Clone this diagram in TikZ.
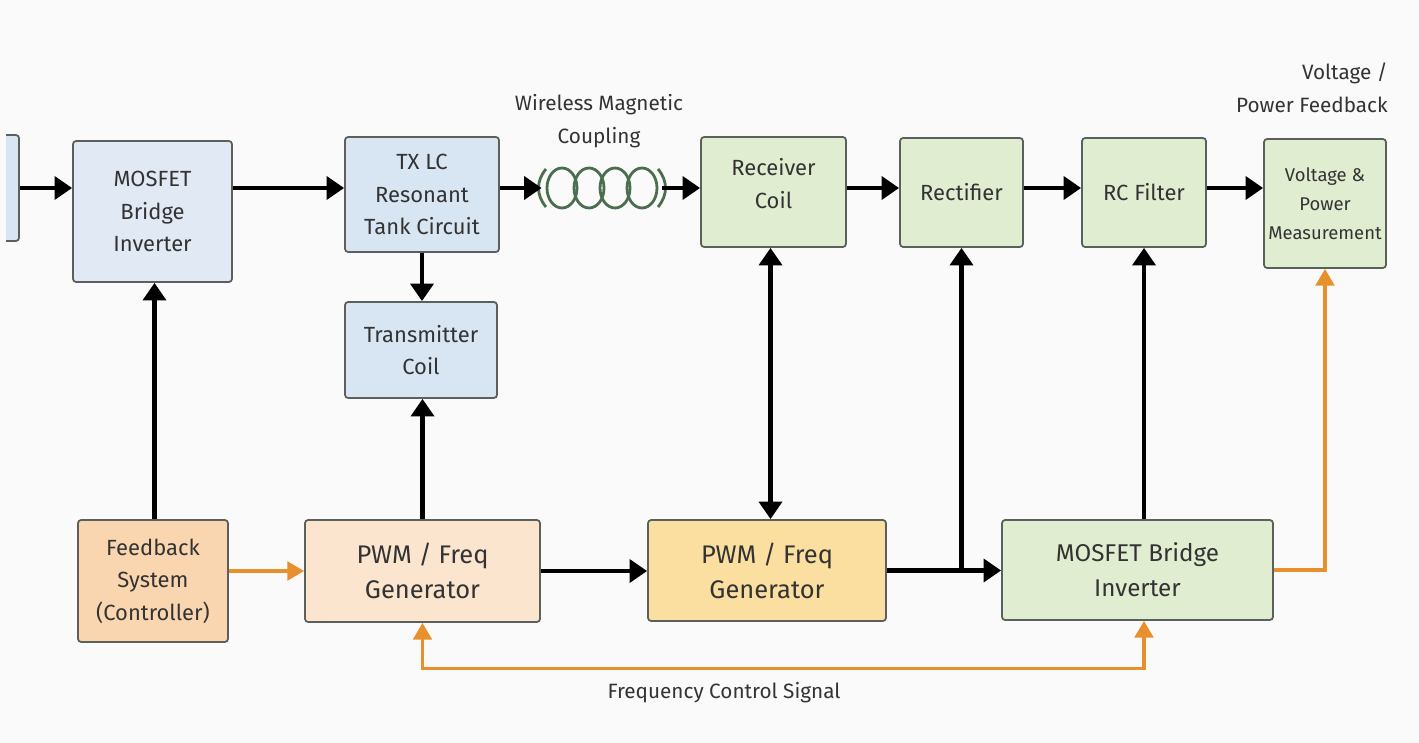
\documentclass[tikz,border=0pt]{standalone}
\usepackage{fontspec}
\setmainfont{Fira Sans}
\usetikzlibrary{arrows.meta}
\definecolor{bg}{HTML}{FAFAFA}
\definecolor{bluefill}{HTML}{D8E6F4}
\definecolor{bluepale}{HTML}{E1E9F5}
\definecolor{greenfill}{HTML}{E1EDD0}
\definecolor{fbfill}{HTML}{F9D6AF}
\definecolor{peach}{HTML}{FBE5CF}
\definecolor{yellowfill}{HTML}{FBDFA0}
\definecolor{edge}{HTML}{5C605C}
\definecolor{txt}{HTML}{333333}
\definecolor{orangeline}{HTML}{E8902C}
\definecolor{coilgreen}{HTML}{4B6E4E}
\begin{document}
\begin{tikzpicture}[x=0.02cm,y=-0.02cm,
  bx/.style 2 args={draw=edge, line width=1pt, rounded corners=1.8pt,
    minimum width=#1*0.02cm, minimum height=#2*0.02cm, inner sep=1pt,
    align=center, text=txt, font=\fontsize{12.5}{18.5}\selectfont},
  bigtext/.style={font=\fontsize{14.5}{20}\selectfont},
  smalltext/.style={font=\fontsize{10.5}{16.4}\selectfont},
  lbl/.style={align=center, text=txt, font=\fontsize{11.8}{18.7}\selectfont, inner sep=0pt},
  arr/.style={draw=black, line width=2.6pt, -{Triangle[length=10pt,width=13pt]}},
  darr/.style={draw=black, line width=2.6pt, {Triangle[length=10pt,width=13pt]}-{Triangle[length=10pt,width=13pt]}},
  oarr/.style={draw=orangeline, line width=2.1pt, -{Triangle[length=9.5pt,width=10.5pt]}},
  odarr/.style={draw=orangeline, line width=2.1pt, {Triangle[length=9.5pt,width=10.5pt]}-{Triangle[length=9.5pt,width=10.5pt]}},
  loop/.style={draw=coilgreen, line width=1.6pt}
]
\useasboundingbox[fill=bg] (0,0) rectangle (1419,743);

% partial source box at the left edge
\begin{scope}
  \clip (6,0) rectangle (200,743);
  \node[bx={60}{106}, fill=bluefill] (src) at (-11,188) {};
\end{scope}

% top row
\node[bx={159}{141}, fill=bluepale] (mos1) at (152.5,211.5) {MOSFET\\Bridge\\Inverter};
\node[bx={154}{115}, fill=bluefill] (tank) at (422,194.5) {TX LC\\Resonant\\Tank Circuit};
\node[bx={152}{96}, fill=bluefill] (txcoil) at (421,350) {Transmitter\\Coil};
\node[minimum width=120*0.02cm, minimum height=45*0.02cm, inner sep=0pt] (coilsym) at (602,188) {};
\node[bx={145}{110}, fill=greenfill] (rxcoil) at (773.5,192) {Receiver\\Coil\\[-9pt]};
\node[bx={123}{109}, fill=greenfill] (rect) at (961.5,192.5) {Rectifier};
\node[bx={124}{109}, fill=greenfill] (rc) at (1144,192.5) {RC Filter};
\node[bx={122}{129}, fill=greenfill, smalltext] (meas) at (1325,203.5) {Voltage \&\\Power\\Measurement};

% coil symbol
\foreach \cx in {562,589,615,642} {
  \draw[loop] (\cx,188) ellipse [x radius=15, y radius=20];
}
\draw[loop] (546,169) .. controls (536,181) and (536,195) .. (546,207);
\draw[loop] (658,169) .. controls (668,181) and (668,195) .. (658,207);

% labels
\node[lbl] (wmc) at (599,121) {Wireless Magnetic\\Coupling};
\node[lbl, align=right, anchor=east] (vpf) at (1388,88) {Voltage /\\Power Feedback};

% bottom row
\node[bx={150}{122}, fill=fbfill] (fb) at (153,581) {Feedback\\System\\(Controller)};
\node[bx={235}{102}, fill=peach, bigtext] (pwm1) at (422.5,571) {PWM / Freq\\Generator};
\node[bx={238}{101}, fill=yellowfill, bigtext] (pwm2) at (767,570.5) {PWM / Freq\\Generator};
\node[bx={271}{100}, fill=greenfill, font=\fontsize{13.8}{20}\selectfont] (mos2) at (1137.5,570) {MOSFET Bridge\\Inverter};
\node[lbl] (fcs) at (724,693) {Frequency Control Signal};

% main power path
\draw[arr] (src.east) -- (src.east -| mos1.west);
\draw[arr] (src.east -| mos1.east) -- (src.east -| tank.west);
\draw[arr] (src.east -| tank.east) -- (coilsym.west);
\draw[arr] (coilsym.east) -- (src.east -| rxcoil.west);
\draw[arr] (src.east -| rxcoil.east) -- (src.east -| rect.west);
\draw[arr] (src.east -| rect.east) -- (src.east -| rc.west);
\draw[arr] (src.east -| rc.east) -- (src.east -| meas.west);

% vertical links
\draw[arr] (tank.south) -- (tank.south |- txcoil.north);
\draw[arr] (pwm1.north) -- (pwm1.north |- txcoil.south);
\draw[arr] (fb.north -| mos1.south) ++(2,0) coordinate (fbtop) -- (fbtop |- mos1.south);
\draw[darr] ([xshift=-0.06cm]rxcoil.south) -- ([xshift=-0.06cm]rxcoil.south |- pwm2.north);

% bottom row links
\draw[oarr] (fb.east |- pwm1.west) -- (pwm1.west);
\draw[arr] (pwm1.east) -- (pwm1.east -| pwm2.west);
\draw[arr] (pwm2.east) -- (pwm2.east -| mos2.west);
\coordinate (junc) at (rect.south |- pwm2.east);
\draw[arr] (junc) -- (rect.south);
\draw[arr] (rc.south |- mos2.north) -- (rc.south);
\draw[oarr] (mos2.east) -- (mos2.east -| meas.south) -- (meas.south);
\coordinate (fcl) at (pwm1.south |- fcs.north);
\draw[odarr] (pwm1.south) -- ([yshift=0.28cm]fcl) -| (rc.south |- mos2.south);
\end{tikzpicture}
\end{document}
